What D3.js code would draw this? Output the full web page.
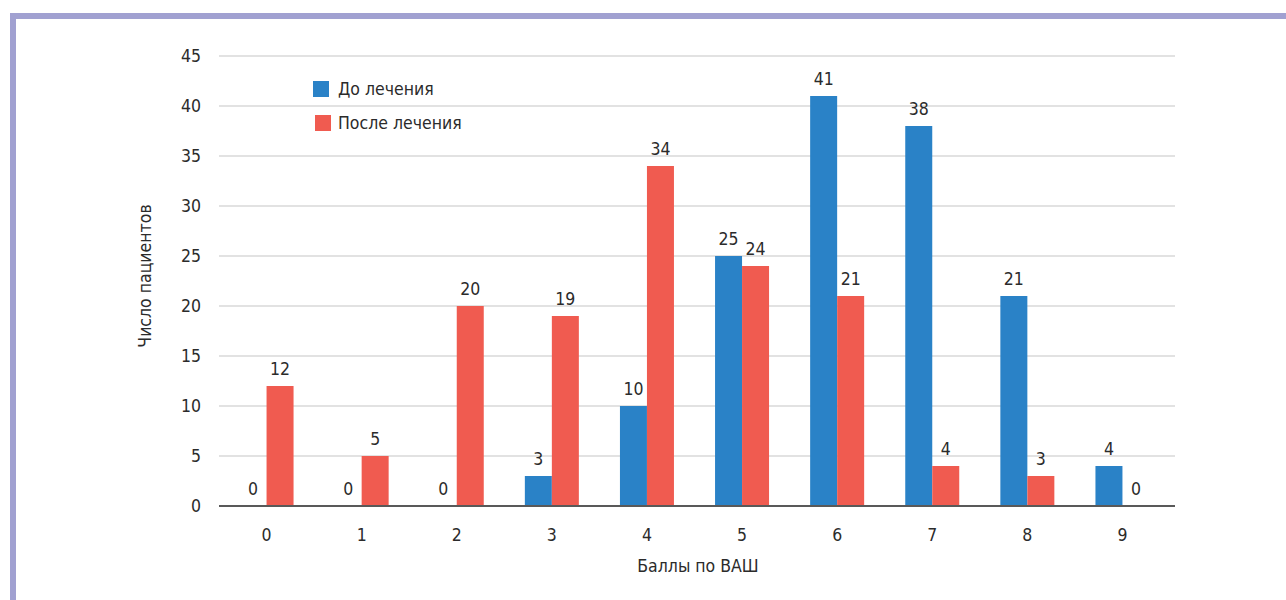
<!DOCTYPE html>
<html>
<head>
<meta charset="utf-8">
<script src="https://cdn.jsdelivr.net/npm/d3@7"></script>
<style>
  html, body { margin: 0; padding: 0; background: #fff; }
  svg text { font-family: "DejaVu Sans Condensed", "Liberation Sans Narrow", sans-serif; fill: #2b2b2b; }
</style>
</head>
<body>
<svg id="chart" width="1286" height="600"></svg>
<script>
// VAS score categories and patient counts
const categories = ["0", "1", "2", "3", "4", "5", "6", "7", "8", "9"];
const before = [0, 0, 0, 3, 10, 25, 41, 38, 21, 4];
const after = [12, 5, 20, 19, 34, 24, 21, 4, 3, 0];
const seriesNames = ["До лечения", "После лечения"];
const yTicks = [0, 5, 10, 15, 20, 25, 30, 35, 40, 45];

const colors = ["#2a82c7", "#f05b50"];
const fs = 17.5;
const svg = d3.select("#chart");

// frame
svg.append("rect").attr("x", 13).attr("y", 16).attr("width", 1290).attr("height", 600)
  .attr("fill", "none").attr("stroke", "#a1a1d1").attr("stroke-width", 6);

const plot = { left: 219, right: 1170, top: 56, bottom: 506 };

const x = d3.scaleBand().domain(categories).range([plot.left, plot.right]);
const y = d3.scaleLinear().domain([0, 45]).range([plot.bottom, plot.top]);

// gridlines
svg.append("g").selectAll("line").data(yTicks.filter(d => d > 0)).join("line")
  .attr("x1", plot.left).attr("x2", 1175)
  .attr("y1", d => y(d)).attr("y2", d => y(d))
  .attr("stroke", "#d9d9d9").attr("stroke-width", 1.5);

// y tick labels
svg.append("g").selectAll("text").data(yTicks).join("text")
  .attr("x", 201).attr("y", d => y(d)).attr("dy", "0.35em")
  .attr("text-anchor", "end").attr("font-size", fs)
  .text(d => d);

const barW = 27;
const groups = [before, after];
groups.forEach((vals, si) => {
  const g = svg.append("g");
  g.selectAll("rect").data(categories).join("rect")
    .attr("x", (c) => x(c) + x.bandwidth() / 2 - barW + si * barW)
    .attr("width", barW)
    .attr("y", (c, i) => y(vals[i]))
    .attr("height", (c, i) => plot.bottom - y(vals[i]))
    .attr("fill", colors[si]);
  g.selectAll("text").data(categories).join("text")
    .attr("x", (c) => x(c) + x.bandwidth() / 2 - barW / 2 + si * barW)
    .attr("y", (c, i) => y(vals[i]) - 11)
    .attr("text-anchor", "middle").attr("font-size", fs)
    .text((c, i) => vals[i]);
});

// x axis line
svg.append("line").attr("x1", plot.left).attr("x2", 1175)
  .attr("y1", plot.bottom).attr("y2", plot.bottom)
  .attr("stroke", "#595959").attr("stroke-width", 2);

// x tick labels
svg.append("g").selectAll("text").data(categories).join("text")
  .attr("x", c => x(c) + x.bandwidth() / 2).attr("y", 541)
  .attr("text-anchor", "middle").attr("font-size", fs)
  .text(c => c);

// axis titles
svg.append("text").attr("x", 698).attr("y", 572).attr("text-anchor", "middle")
  .attr("font-size", fs).text("Баллы по ВАШ");
svg.append("text").attr("transform", "translate(151,276) rotate(-90)")
  .attr("text-anchor", "middle").attr("font-size", fs).text("Число пациентов");

// legend
const legend = svg.append("g");
seriesNames.forEach((name, i) => {
  legend.append("rect").attr("x", 313 + i * 2).attr("y", 81 + i * 34).attr("width", 16).attr("height", 16)
    .attr("fill", colors[i]);
  legend.append("text").attr("x", 338).attr("y", 89 + i * 34).attr("dy", "0.35em")
    .attr("font-size", fs).text(name);
});
</script>
</body>
</html>
